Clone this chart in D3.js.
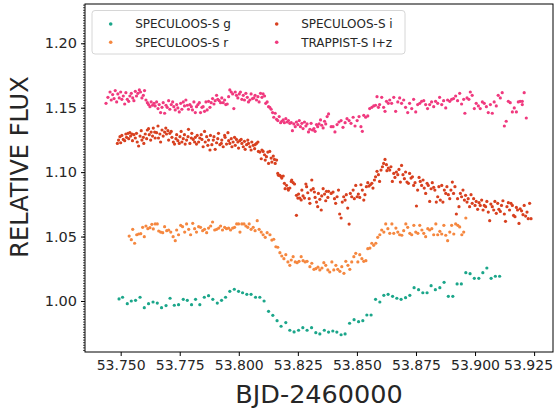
<!DOCTYPE html>
<html><head><meta charset="utf-8">
<script src="https://cdn.jsdelivr.net/npm/d3@7"></script>
<style>body{margin:0;background:#fff}svg{display:block;font-family:"DejaVu Sans",sans-serif}</style>
</head><body><svg id="c" width="558" height="411"></svg>
<script>
const seriesNames = ["SPECULOOS-S g","SPECULOOS-S r","SPECULOOS-S i","TRAPPIST-S I+z"];
const seriesColors = ["#1ba68a","#f5873f","#d8401f","#f0397e"];
const xTickValues = [53.750,53.775,53.800,53.825,53.850,53.875,53.900,53.925];
const yTickValues = [1.00,1.05,1.10,1.15,1.20];
const xLabel = "BJD-2460000";
const yLabel = "RELATIVE FLUX";

const specG = [[53.7493,1.0016],[53.7508,1.0029],[53.7528,0.9979],[53.7545,1.0000],[53.7563,1.0005],[53.7582,1.0029],[53.7600,0.9948],[53.7618,0.9979],[53.7637,0.9992],[53.7655,0.9984],[53.7673,0.9948],[53.7692,0.9964],[53.7709,1.0021],[53.7727,0.9967],[53.7745,0.9971],[53.7765,1.0013],[53.7782,1.0005],[53.7800,0.9971],[53.7817,1.0013],[53.7835,0.9971],[53.7854,1.0029],[53.7872,1.0041],[53.7890,1.0013],[53.7909,0.9984],[53.7927,1.0005],[53.7944,1.0029],[53.7962,1.0075],[53.7981,1.0091],[53.7999,1.0075],[53.8016,1.0064],[53.8034,1.0052],[53.8052,1.0052],[53.8071,1.0029],[53.8089,1.0029],[53.8107,1.0000],[53.8126,0.9920],[53.8144,0.9889],[53.8162,0.9847],[53.8179,0.9804],[53.8199,0.9832],[53.8216,0.9773],[53.8234,0.9760],[53.8253,0.9773],[53.8271,0.9793],[53.8289,0.9773],[53.8308,0.9793],[53.8326,0.9754],[53.8343,0.9744],[53.8362,0.9773],[53.8380,0.9759],[53.8398,0.9767],[53.8415,0.9759],[53.8433,0.9738],[53.8450,0.9744],[53.8469,0.9827],[53.8488,0.9855],[53.8507,0.9839],[53.8525,0.9847],[53.8542,0.9891],[53.8560,0.9891],[53.8579,1.0013],[53.8597,0.9992],[53.8614,1.0044],[53.8632,1.0052],[53.8651,1.0036],[53.8669,1.0021],[53.8687,1.0013],[53.8706,1.0026],[53.8724,1.0044],[53.8742,1.0103],[53.8761,1.0088],[53.8779,1.0064],[53.8797,1.0064],[53.8814,1.0119],[53.8832,1.0088],[53.8851,1.0103],[53.8869,1.0145],[53.8887,1.0036],[53.8906,1.0036],[53.8924,1.0132],[53.8942,1.0132],[53.8961,1.0220],[53.8979,1.0212],[53.8997,1.0176],[53.9016,1.0176],[53.9033,1.0220],[53.9050,1.0256],[53.9068,1.0176],[53.9086,1.0192],[53.9104,1.0192]];

const specR = [[53.7536,1.0504],[53.7545,1.0476],[53.7551,1.0556],[53.7559,1.0448],[53.7568,1.0514],[53.7576,1.0520],[53.7585,1.0522],[53.7593,1.0572],[53.7600,1.0499],[53.7607,1.0582],[53.7615,1.0561],[53.7624,1.0569],[53.7632,1.0595],[53.7638,1.0559],[53.7646,1.0598],[53.7655,1.0598],[53.7661,1.0543],[53.7669,1.0535],[53.7678,1.0530],[53.7686,1.0577],[53.7695,1.0546],[53.7703,1.0551],[53.7712,1.0535],[53.7722,1.0499],[53.7731,1.0468],[53.7737,1.0551],[53.7745,1.0514],[53.7754,1.0587],[53.7762,1.0577],[53.7771,1.0535],[53.7779,1.0598],[53.7788,1.0556],[53.7796,1.0514],[53.7805,1.0603],[53.7813,1.0561],[53.7821,1.0535],[53.7830,1.0577],[53.7838,1.0572],[53.7847,1.0546],[53.7855,1.0556],[53.7864,1.0530],[53.7872,1.0566],[53.7881,1.0582],[53.7889,1.0613],[53.7898,1.0551],[53.7906,1.0556],[53.7915,1.0566],[53.7923,1.0582],[53.7931,1.0551],[53.7940,1.0572],[53.7948,1.0561],[53.7957,1.0566],[53.7965,1.0551],[53.7974,1.0566],[53.7982,1.0572],[53.7991,1.0598],[53.7999,1.0598],[53.8005,1.0535],[53.8013,1.0598],[53.8022,1.0598],[53.8030,1.0582],[53.8038,1.0572],[53.8044,1.0598],[53.8052,1.0556],[53.8061,1.0572],[53.8069,1.0546],[53.8078,1.0623],[53.8086,1.0556],[53.8095,1.0535],[53.8103,1.0514],[53.8112,1.0494],[53.8120,1.0530],[53.8132,1.0514],[53.8140,1.0473],[53.8148,1.0479],[53.8157,1.0421],[53.8165,1.0417],[53.8174,1.0375],[53.8182,1.0349],[53.8191,1.0328],[53.8199,1.0359],[53.8208,1.0303],[53.8216,1.0277],[53.8222,1.0318],[53.8230,1.0344],[53.8239,1.0303],[53.8247,1.0297],[53.8255,1.0308],[53.8264,1.0344],[53.8272,1.0313],[53.8281,1.0303],[53.8289,1.0308],[53.8301,1.0266],[53.8309,1.0293],[53.8318,1.0246],[53.8326,1.0251],[53.8335,1.0262],[53.8343,1.0241],[53.8352,1.0256],[53.8360,1.0297],[53.8368,1.0277],[53.8377,1.0241],[53.8385,1.0225],[53.8394,1.0303],[53.8402,1.0241],[53.8411,1.0277],[53.8419,1.0246],[53.8428,1.0230],[53.8436,1.0266],[53.8445,1.0215],[53.8453,1.0308],[53.8462,1.0277],[53.8470,1.0246],[53.8478,1.0303],[53.8487,1.0344],[53.8495,1.0370],[53.8504,1.0303],[53.8512,1.0359],[53.8521,1.0328],[53.8529,1.0308],[53.8538,1.0313],[53.8546,1.0406],[53.8555,1.0411],[53.8563,1.0448],[53.8571,1.0432],[53.8580,1.0448],[53.8588,1.0494],[53.8597,1.0514],[53.8605,1.0551],[53.8614,1.0535],[53.8622,1.0598],[53.8631,1.0561],[53.8639,1.0525],[53.8648,1.0598],[53.8656,1.0525],[53.8665,1.0566],[53.8673,1.0535],[53.8681,1.0514],[53.8690,1.0510],[53.8698,1.0546],[53.8707,1.0598],[53.8715,1.0572],[53.8724,1.0525],[53.8732,1.0514],[53.8741,1.0587],[53.8749,1.0535],[53.8758,1.0525],[53.8766,1.0587],[53.8775,1.0551],[53.8783,1.0525],[53.8791,1.0499],[53.8800,1.0561],[53.8808,1.0551],[53.8817,1.0561],[53.8825,1.0514],[53.8834,1.0598],[53.8842,1.0514],[53.8851,1.0541],[53.8859,1.0520],[53.8868,1.0587],[53.8876,1.0510],[53.8884,1.0468],[53.8893,1.0535],[53.8901,1.0587],[53.8910,1.0520],[53.8918,1.0598],[53.8927,1.0587],[53.8935,1.0575],[53.8944,1.0514],[53.8952,1.0535],[53.8961,1.0644]];

const specI = [[53.7486,1.1223],[53.7491,1.1249],[53.7497,1.1275],[53.7500,1.1228],[53.7505,1.1285],[53.7511,1.1254],[53.7517,1.1244],[53.7522,1.1296],[53.7525,1.1270],[53.7531,1.1301],[53.7534,1.1260],[53.7539,1.1306],[53.7542,1.1280],[53.7548,1.1296],[53.7550,1.1244],[53.7556,1.1291],[53.7562,1.1265],[53.7567,1.1301],[53.7570,1.1234],[53.7576,1.1203],[53.7582,1.1280],[53.7587,1.1322],[53.7590,1.1249],[53.7596,1.1270],[53.7598,1.1223],[53.7604,1.1296],[53.7610,1.1260],[53.7613,1.1327],[53.7618,1.1337],[53.7621,1.1291],[53.7627,1.1249],[53.7629,1.1311],[53.7635,1.1280],[53.7638,1.1342],[53.7644,1.1311],[53.7646,1.1265],[53.7652,1.1306],[53.7658,1.1358],[53.7660,1.1265],[53.7666,1.1296],[53.7669,1.1234],[53.7675,1.1327],[53.7680,1.1280],[53.7686,1.1311],[53.7691,1.1342],[53.7694,1.1296],[53.7700,1.1322],[53.7703,1.1249],[53.7708,1.1301],[53.7714,1.1316],[53.7717,1.1270],[53.7723,1.1234],[53.7728,1.1218],[53.7734,1.1260],[53.7737,1.1291],[53.7742,1.1244],[53.7748,1.1223],[53.7751,1.1275],[53.7756,1.1316],[53.7759,1.1234],[53.7765,1.1260],[53.7770,1.1291],[53.7773,1.1218],[53.7779,1.1249],[53.7785,1.1275],[53.7787,1.1332],[53.7793,1.1223],[53.7799,1.1265],[53.7801,1.1301],[53.7807,1.1254],[53.7813,1.1234],[53.7816,1.1270],[53.7821,1.1218],[53.7824,1.1285],[53.7830,1.1234],[53.7835,1.1265],[53.7841,1.1291],[53.7844,1.1254],[53.7849,1.1197],[53.7855,1.1316],[53.7858,1.1234],[53.7864,1.1275],[53.7869,1.1208],[53.7872,1.1249],[53.7878,1.1172],[53.7880,1.1285],[53.7886,1.1213],[53.7892,1.1249],[53.7895,1.1275],[53.7900,1.1177],[53.7906,1.1228],[53.7911,1.1260],[53.7914,1.1301],[53.7920,1.1213],[53.7926,1.1223],[53.7928,1.1249],[53.7934,1.1197],[53.7940,1.1285],[53.7942,1.1270],[53.7948,1.1218],[53.7954,1.1306],[53.7957,1.1244],[53.7962,1.1223],[53.7968,1.1260],[53.7971,1.1197],[53.7976,1.1234],[53.7982,1.1270],[53.7985,1.1208],[53.7990,1.1254],[53.7996,1.1234],[53.7999,1.1187],[53.8004,1.1244],[53.8010,1.1254],[53.8013,1.1223],[53.8019,1.1197],[53.8024,1.1239],[53.8027,1.1177],[53.8033,1.1213],[53.8038,1.1249],[53.8041,1.1223],[53.8047,1.1197],[53.8052,1.1172],[53.8055,1.1234],[53.8061,1.1208],[53.8067,1.1182],[53.8069,1.1213],[53.8075,1.1223],[53.8081,1.1234],[53.8083,1.1161],[53.8089,1.1156],[53.8095,1.1104],[53.8098,1.1172],[53.8103,1.1161],[53.8109,1.1135],[53.8112,1.1094],[53.8117,1.1120],[53.8123,1.1156],[53.8126,1.1068],[53.8131,1.1161],[53.8137,1.1109],[53.8140,1.1078],[53.8146,1.1125],[53.8151,1.1099],[53.8154,1.1068],[53.8160,1.1094],[53.8165,1.0990],[53.8168,1.0975],[53.8174,1.0975],[53.8179,1.0965],[53.8182,1.0954],[53.8188,1.0970],[53.8193,1.0913],[53.8196,1.0872],[53.8202,1.0898],[53.8208,1.0872],[53.8210,1.0861],[53.8216,1.0877],[53.8222,1.0928],[53.8224,1.0939],[53.8230,1.0918],[53.8236,1.0908],[53.8244,1.0820],[53.8244,1.0665],[53.8250,1.0799],[53.8253,1.0830],[53.8258,1.0799],[53.8264,1.0784],[53.8267,1.0861],[53.8272,1.0815],[53.8278,1.0799],[53.8284,1.0908],[53.8287,1.0887],[53.8292,1.0840],[53.8298,1.0794],[53.8301,1.0758],[53.8306,1.0861],[53.8309,1.0939],[53.8315,1.0872],[53.8320,1.0846],[53.8323,1.0804],[53.8329,1.0768],[53.8334,1.0732],[53.8337,1.0835],[53.8343,1.0789],[53.8349,1.0706],[53.8351,1.0815],[53.8357,1.0872],[53.8363,1.0830],[53.8368,1.0778],[53.8371,1.0851],[53.8377,1.0804],[53.8380,1.0851],[53.8391,1.0835],[53.8399,1.0845],[53.8405,1.0794],[53.8410,1.0758],[53.8416,1.0809],[53.8422,1.0861],[53.8427,1.0675],[53.8433,1.0644],[53.8438,1.0768],[53.8444,1.0809],[53.8450,1.0783],[53.8455,1.0825],[53.8461,1.0721],[53.8467,1.0597],[53.8472,1.0835],[53.8478,1.0809],[53.8484,1.0861],[53.8489,1.0794],[53.8495,1.0897],[53.8501,1.0809],[53.8506,1.0830],[53.8512,1.0804],[53.8517,1.0902],[53.8523,1.0861],[53.8529,1.0783],[53.8534,1.0825],[53.8540,1.0887],[53.8546,1.0918],[53.8551,1.0892],[53.8557,1.0902],[53.8563,1.0913],[53.8568,1.0876],[53.8574,1.0939],[53.8579,1.0964],[53.8585,1.1006],[53.8591,1.0980],[53.8596,1.0928],[53.8602,1.1016],[53.8608,1.1042],[53.8613,1.1068],[53.8619,1.1099],[53.8625,1.1058],[53.8627,1.1011],[53.8633,1.1032],[53.8639,1.1016],[53.8644,1.1042],[53.8650,1.0928],[53.8656,1.0990],[53.8661,1.0959],[53.8667,1.1001],[53.8673,1.0980],[53.8678,1.1021],[53.8684,1.0923],[53.8689,1.1052],[53.8695,1.0980],[53.8701,1.0949],[53.8706,1.1001],[53.8712,1.0923],[53.8718,1.0913],[53.8723,1.0990],[53.8729,1.0954],[53.8735,1.0964],[53.8740,1.0897],[53.8746,1.0918],[53.8752,1.0737],[53.8757,1.0861],[53.8763,1.0959],[53.8768,1.0928],[53.8774,1.0897],[53.8780,1.0939],[53.8785,1.0876],[53.8791,1.0835],[53.8797,1.0913],[53.8802,1.0897],[53.8808,1.0773],[53.8814,1.0871],[53.8819,1.0918],[53.8825,1.0882],[53.8830,1.0861],[53.8836,1.0768],[53.8842,1.0809],[53.8847,1.0887],[53.8853,1.0783],[53.8859,1.0897],[53.8864,1.0768],[53.8870,1.0861],[53.8876,1.0835],[53.8881,1.0887],[53.8887,1.0825],[53.8893,1.0794],[53.8898,1.0861],[53.8904,1.0923],[53.8909,1.0835],[53.8915,1.0887],[53.8921,1.0675],[53.8926,1.0794],[53.8932,1.0732],[53.8938,1.0835],[53.8943,1.0809],[53.8949,1.0861],[53.8955,1.0783],[53.8960,1.0820],[53.8966,1.0768],[53.8971,1.0794],[53.8977,1.0732],[53.8983,1.0825],[53.8988,1.0758],[53.8994,1.0794],[53.9000,1.0742],[53.9005,1.0773],[53.9011,1.0711],[53.9017,1.0763],[53.9022,1.0742],[53.9028,1.0783],[53.9034,1.0706],[53.9039,1.0742],[53.9045,1.0732],[53.9050,1.0773],[53.9056,1.0690],[53.9062,1.0623],[53.9067,1.0752],[53.9073,1.0732],[53.9079,1.0706],[53.9084,1.0773],[53.9090,1.0680],[53.9096,1.0758],[53.9101,1.0711],[53.9107,1.0695],[53.9112,1.0742],[53.9118,1.0778],[53.9124,1.0675],[53.9129,1.0618],[53.9135,1.0732],[53.9141,1.0763],[53.9146,1.0706],[53.9152,1.0758],[53.9158,1.0742],[53.9163,1.0664],[53.9169,1.0654],[53.9175,1.0726],[53.9180,1.0706],[53.9186,1.0602],[53.9191,1.0716],[53.9197,1.0700],[53.9203,1.0670],[53.9208,1.0742],[53.9214,1.0659],[53.9220,1.0690],[53.9225,1.0639],[53.9231,1.0758],[53.9237,1.0639]];

const trappistIz = [[53.7438,1.1534],[53.7446,1.1581],[53.7455,1.1622],[53.7460,1.1560],[53.7466,1.1602],[53.7472,1.1571],[53.7477,1.1633],[53.7483,1.1545],[53.7488,1.1607],[53.7494,1.1576],[53.7500,1.1622],[53.7505,1.1565],[53.7511,1.1591],[53.7517,1.1529],[53.7522,1.1617],[53.7528,1.1565],[53.7534,1.1550],[53.7539,1.1591],[53.7545,1.1612],[53.7551,1.1576],[53.7556,1.1555],[53.7562,1.1627],[53.7567,1.1591],[53.7573,1.1612],[53.7579,1.1638],[53.7584,1.1622],[53.7590,1.1576],[53.7596,1.1596],[53.7601,1.1633],[53.7607,1.1560],[53.7613,1.1539],[53.7618,1.1524],[53.7624,1.1508],[53.7629,1.1545],[53.7635,1.1519],[53.7641,1.1534],[53.7646,1.1514],[53.7652,1.1545],[53.7658,1.1493],[53.7663,1.1524],[53.7669,1.1462],[53.7675,1.1503],[53.7680,1.1539],[53.7686,1.1457],[53.7692,1.1519],[53.7697,1.1503],[53.7703,1.1555],[53.7708,1.1488],[53.7714,1.1524],[53.7720,1.1545],[53.7725,1.1508],[53.7731,1.1483],[53.7737,1.1524],[53.7742,1.1498],[53.7748,1.1467],[53.7754,1.1534],[53.7759,1.1488],[53.7765,1.1545],[53.7770,1.1514],[53.7776,1.1560],[53.7782,1.1519],[53.7787,1.1488],[53.7793,1.1524],[53.7799,1.1508],[53.7804,1.1483],[53.7810,1.1545],[53.7816,1.1462],[53.7821,1.1508],[53.7827,1.1524],[53.7833,1.1539],[53.7838,1.1462],[53.7844,1.1503],[53.7849,1.1508],[53.7855,1.1472],[53.7861,1.1545],[53.7866,1.1483],[53.7872,1.1550],[53.7878,1.1503],[53.7883,1.1539],[53.7889,1.1571],[53.7895,1.1529],[53.7900,1.1555],[53.7906,1.1596],[53.7911,1.1565],[53.7917,1.1555],[53.7923,1.1539],[53.7928,1.1576],[53.7934,1.1539],[53.7940,1.1560],[53.7945,1.1524],[53.7951,1.1529],[53.7957,1.1586],[53.7962,1.1638],[53.7968,1.1622],[53.7974,1.1607],[53.7979,1.1493],[53.7985,1.1622],[53.7990,1.1596],[53.7996,1.1576],[53.8002,1.1607],[53.8007,1.1622],[53.8013,1.1565],[53.8019,1.1596],[53.8024,1.1560],[53.8030,1.1612],[53.8036,1.1581],[53.8041,1.1545],[53.8047,1.1560],[53.8052,1.1607],[53.8058,1.1571],[53.8064,1.1576],[53.8069,1.1596],[53.8075,1.1560],[53.8081,1.1586],[53.8086,1.1545],[53.8092,1.1612],[53.8098,1.1581],[53.8103,1.1607],[53.8109,1.1591],[53.8114,1.1534],[53.8120,1.1545],[53.8126,1.1508],[53.8131,1.1503],[53.8137,1.1488],[53.8143,1.1462],[53.8148,1.1426],[53.8154,1.1457],[53.8160,1.1410],[53.8165,1.1400],[53.8171,1.1431],[53.8177,1.1384],[53.8182,1.1395],[53.8188,1.1405],[53.8193,1.1384],[53.8199,1.1415],[53.8205,1.1389],[53.8210,1.1400],[53.8216,1.1379],[53.8222,1.1384],[53.8227,1.1322],[53.8233,1.1374],[53.8239,1.1353],[53.8244,1.1389],[53.8250,1.1369],[53.8256,1.1400],[53.8261,1.1353],[53.8267,1.1379],[53.8272,1.1338],[53.8278,1.1389],[53.8284,1.1358],[53.8289,1.1374],[53.8295,1.1312],[53.8301,1.1333],[53.8306,1.1379],[53.8312,1.1327],[53.8318,1.1338],[53.8323,1.1317],[53.8329,1.1369],[53.8334,1.1353],[53.8340,1.1374],[53.8346,1.1405],[53.8351,1.1364],[53.8357,1.1343],[53.8363,1.1395],[53.8368,1.1374],[53.8374,1.1431],[53.8380,1.1452],[53.8391,1.1353],[53.8399,1.1353],[53.8407,1.1312],[53.8416,1.1369],[53.8424,1.1389],[53.8433,1.1400],[53.8441,1.1348],[53.8450,1.1384],[53.8458,1.1415],[53.8467,1.1400],[53.8475,1.1379],[53.8484,1.1426],[53.8492,1.1358],[53.8501,1.1400],[53.8509,1.1431],[53.8517,1.1353],[53.8523,1.1317],[53.8529,1.1441],[53.8537,1.1426],[53.8546,1.1436],[53.8554,1.1493],[53.8563,1.1503],[53.8571,1.1514],[53.8579,1.1519],[53.8585,1.1586],[53.8591,1.1503],[53.8596,1.1524],[53.8605,1.1581],[53.8613,1.1503],[53.8619,1.1472],[53.8625,1.1550],[53.8633,1.1534],[53.8639,1.1560],[53.8647,1.1534],[53.8656,1.1581],[53.8664,1.1472],[53.8673,1.1545],[53.8681,1.1576],[53.8689,1.1534],[53.8698,1.1560],[53.8706,1.1503],[53.8715,1.1462],[53.8723,1.1534],[53.8732,1.1493],[53.8740,1.1565],[53.8749,1.1467],[53.8757,1.1524],[53.8766,1.1534],[53.8774,1.1550],[53.8783,1.1555],[53.8791,1.1524],[53.8799,1.1493],[53.8808,1.1524],[53.8816,1.1545],[53.8825,1.1508],[53.8833,1.1550],[53.8842,1.1534],[53.8850,1.1581],[53.8859,1.1524],[53.8867,1.1555],[53.8876,1.1498],[53.8884,1.1560],[53.8893,1.1550],[53.8901,1.1565],[53.8909,1.1571],[53.8918,1.1591],[53.8926,1.1555],[53.8935,1.1612],[53.8943,1.1529],[53.8952,1.1565],[53.8957,1.1457],[53.8966,1.1576],[53.8974,1.1565],[53.8980,1.1622],[53.8988,1.1596],[53.8997,1.1493],[53.9005,1.1534],[53.9014,1.1514],[53.9022,1.1493],[53.9031,1.1545],[53.9039,1.1534],[53.9048,1.1508],[53.9056,1.1462],[53.9065,1.1524],[53.9073,1.1457],[53.9081,1.1545],[53.9090,1.1514],[53.9098,1.1596],[53.9107,1.1576],[53.9115,1.1617],[53.9124,1.1358],[53.9132,1.1395],[53.9141,1.1550],[53.9149,1.1539],[53.9158,1.1467],[53.9166,1.1498],[53.9175,1.1467],[53.9183,1.1545],[53.9191,1.1550],[53.9200,1.1550],[53.9200,1.1524],[53.9208,1.1617],[53.9217,1.1420]];

const allSeries = [specG, specR, specI, trappistIz];

const svg = d3.select("#c");
const L = 85, R = 553, T = 4, B = 352;
const x = d3.scaleLinear().domain([53.7349, 53.9330]).range([L, R]);
const y = d3.scaleLinear().domain([0.9604, 1.2305]).range([B, T]);
const txtColor = "#262626";

// points
allSeries.forEach((data, i) => {
  svg.append("g").selectAll("circle").data(data).join("circle")
    .attr("cx", d => x(d[0])).attr("cy", d => y(d[1]))
    .attr("r", 1.6).attr("fill", seriesColors[i]);
});

// x axis
const gx = svg.append("g").attr("transform", `translate(0,${B})`)
  .call(d3.axisBottom(x).tickValues(xTickValues).tickFormat(d3.format(".3f")).tickSize(4).tickPadding(4));
gx.select(".domain").remove();
gx.selectAll("text").attr("font-size", 14).attr("fill", txtColor).attr("font-family", "DejaVu Sans");
gx.selectAll("line").attr("stroke", "#000");
// keep the last label inside the picture
gx.selectAll(".tick").filter((d, i, n) => i === n.length - 1).select("text")
  .attr("dx", "-6");

// y axis minor
const minorVals = d3.range(0.962, 1.2301, 0.002);
const gym = svg.append("g").attr("transform", `translate(${L},0)`)
  .call(d3.axisLeft(y).tickValues(minorVals).tickFormat("").tickSize(2));
gym.select(".domain").remove();
gym.selectAll("line").attr("stroke", "#000").attr("stroke-width", 0.7);

// y axis major
const gy = svg.append("g").attr("transform", `translate(${L},0)`)
  .call(d3.axisLeft(y).tickValues(yTickValues).tickFormat(d3.format(".2f")).tickSize(4).tickPadding(4));
gy.select(".domain").remove();
gy.selectAll("text").attr("font-size", 14.5).attr("fill", txtColor).attr("font-family", "DejaVu Sans");
gy.selectAll("line").attr("stroke", "#000");

// frame
svg.append("rect").attr("x", L).attr("y", T).attr("width", R - L).attr("height", B - T)
  .attr("fill", "none").attr("stroke", "#000").attr("stroke-width", 1);

// axis labels
svg.append("text").attr("x", (L + R) / 2).attr("y", 403).attr("text-anchor", "middle")
  .attr("font-size", 25.5).attr("fill", txtColor).text(xLabel);
svg.append("text").attr("transform", "translate(28,167) rotate(-90)").attr("text-anchor", "middle")
  .attr("font-size", 24).attr("fill", txtColor).text(yLabel);

// legend
const lg = svg.append("g");
lg.append("rect").attr("x", 92).attr("y", 10.5).attr("width", 313).attr("height", 43.5)
  .attr("rx", 3).attr("fill", "#fff").attr("fill-opacity", 0.8).attr("stroke", "#d6d6d6").attr("stroke-width", 1);
const legPos = [[110.7, 24], [110.7, 42.3], [276.7, 24], [276.7, 42.3]];
seriesNames.forEach((n, i) => {
  const [lx, ly] = legPos[i];
  lg.append("circle").attr("cx", lx).attr("cy", ly).attr("r", 1.8).attr("fill", seriesColors[i]);
  lg.append("text").attr("x", lx + 24.5).attr("y", ly + 4.3).attr("font-size", 12)
    .attr("fill", txtColor).text(n);
});
</script></body></html>
